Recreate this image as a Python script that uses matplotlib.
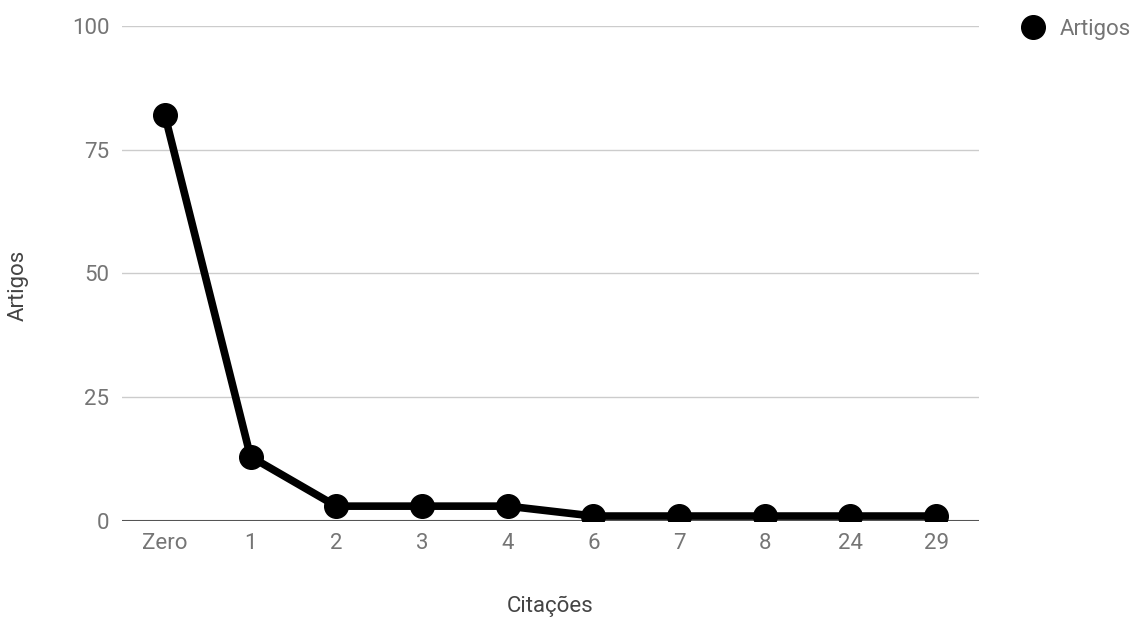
import matplotlib.pyplot as plt
from matplotlib.lines import Line2D

# Citation counts and number of articles per count
citacoes = ["Zero", "1", "2", "3", "4", "6", "7", "8", "24", "29"]
artigos = [82, 13, 3, 3, 3, 1, 1, 1, 1, 1]
yticks = [0, 25, 50, 75, 100]

plt.rcParams["font.family"] = ["Roboto", "DejaVu Sans"]
text_gray = "#757575"
title_gray = "#444444"
fsize = 16

fig = plt.figure(figsize=(11.38, 6.17), dpi=100)
ax = fig.add_axes([0.1072, 0.1556, 0.7531, 0.8023])

x = range(len(citacoes))
ax.plot(x, artigos, color="black", linewidth=5.5, marker="o", markersize=17,
        solid_joinstyle="round", zorder=3)

ax.set_xlim(-0.5, len(citacoes) - 0.5)
ax.set_ylim(0, 100)
ax.set_yticks(yticks)
ax.set_xticks(list(x))
ax.set_xticklabels(citacoes)

# light horizontal gridlines, darker baseline
ax.grid(axis="y", color="#cccccc", linewidth=1)
ax.grid(axis="x", visible=False)
ax.axhline(0, color="#555555", linewidth=1.5, zorder=2)
for s in ax.spines.values():
    s.set_visible(False)

ax.tick_params(length=0, labelsize=fsize, labelcolor=text_gray)
ax.tick_params(axis="y", pad=9)
ax.tick_params(axis="x", pad=9)

ax.set_xlabel("Citações", fontsize=fsize, color=title_gray, labelpad=30)
ax.set_ylabel("Artigos", fontsize=fsize, color=title_gray)
ax.yaxis.set_label_coords(-0.1085, 0.475)

handle = Line2D([], [], color="black", marker="o", linestyle="none", markersize=17)
fig.legend([handle], ["Artigos"], loc="upper left", bbox_to_anchor=(0.871, 1.002),
           frameon=False, fontsize=fsize, labelcolor=text_gray, handletextpad=0.2)

fig.savefig("out.png", dpi=100)
